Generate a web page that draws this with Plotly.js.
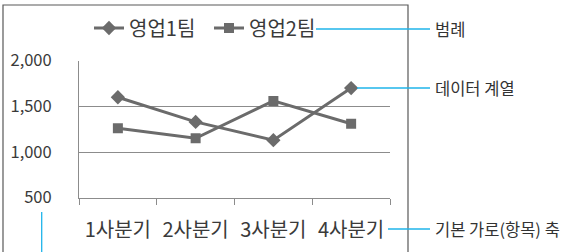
<!DOCTYPE html>
<html><head><meta charset="utf-8">
<script src="https://cdn.plot.ly/plotly-3.0.1.min.js"></script>
<style>html,body{margin:0;padding:0;background:#fff}#c{width:561px;height:252px}</style>
</head><body><div id="c"></div>
<script>
const categories = ['1사분기','2사분기','3사분기','4사분기'];
const team1 = [1600, 1330, 1130, 1700];
const team2 = [1260, 1150, 1560, 1310];
const seriesNames = ['영업1팀','영업2팀'];
const callouts = ['범례','데이터 계열','기본 가로(항목) 축'];

const W = 561, H = 252;
const px = x => x / W, py = y => 1 - y / H;
const F = '"Noto Sans CJK KR", "Noto Sans", sans-serif';
const gray = '#6b6b6b';
const blue = '#1fb4ea';

const traces = [
  {x: categories, y: team1, name: seriesNames[0], type: 'scatter', mode: 'lines+markers', legend: 'legend',
   line: {color: gray, width: 3}, marker: {symbol: 'diamond', size: 11, color: gray}},
  {x: categories, y: team2, name: seriesNames[1], type: 'scatter', mode: 'lines+markers', legend: 'legend2',
   line: {color: gray, width: 3}, marker: {symbol: 'square', size: 10, color: gray}}
];

const legFont = {family: F, size: 20, color: '#3a3a3a'};
const layout = {
  width: W, height: H,
  margin: {l: 0, r: 0, t: 0, b: 0},
  paper_bgcolor: '#fff', plot_bgcolor: '#fff',
  font: {family: F, color: '#3a3a3a', size: 16},
  showlegend: true,
  legend: {orientation: 'h', x: px(89), y: py(28), xanchor: 'left', yanchor: 'middle',
           font: legFont, itemwidth: 30, bgcolor: 'rgba(0,0,0,0)'},
  legend2: {orientation: 'h', x: px(209), y: py(28), xanchor: 'left', yanchor: 'middle',
           font: legFont, itemwidth: 30, bgcolor: 'rgba(0,0,0,0)'},
  xaxis: {domain: [px(79), px(390)], type: 'category', range: [-0.5, 3.5],
          showline: true, linecolor: '#8c8c8c', linewidth: 1,
          ticks: 'outside', tickson: 'boundaries', ticklen: 6, tickcolor: '#8c8c8c',
          showgrid: false, zeroline: false, fixedrange: true,
          tickfont: {family: F, size: 20, color: '#3a3a3a'}, ticklabelstandoff: 14},
  yaxis: {domain: [py(197.7), py(60.7)], range: [500, 2000], dtick: 500, tickformat: ',',
          showline: true, linecolor: '#8c8c8c', linewidth: 1, ticks: '',
          showgrid: true, gridcolor: '#8c8c8c', gridwidth: 1, zeroline: false,
          tickfont: {family: F, size: 16.5, color: '#3a3a3a'}, ticklabelstandoff: 23},
  shapes: [
    {type: 'rect', xref: 'paper', yref: 'paper', x0: px(3), x1: px(408), y0: py(270), y1: py(5),
     line: {color: '#595959', width: 1.2}, fillcolor: 'rgba(0,0,0,0)', layer: 'below'},
    {type: 'line', xref: 'paper', yref: 'paper', x0: px(316), x1: px(430), y0: py(29), y1: py(29),
     line: {color: blue, width: 1.3}},
    {type: 'line', xref: 'paper', yref: 'paper', x0: px(357), x1: px(430), y0: py(88), y1: py(88),
     line: {color: blue, width: 1.3}},
    {type: 'line', xref: 'paper', yref: 'paper', x0: px(388), x1: px(430), y0: py(229), y1: py(229),
     line: {color: blue, width: 1.3}},
    {type: 'line', xref: 'paper', yref: 'paper', x0: px(41.7), x1: px(41.7), y0: py(212), y1: py(255),
     line: {color: blue, width: 1.3}}
  ],
  annotations: [
    {text: callouts[0], xref: 'paper', yref: 'paper', x: px(433), y: py(29), xanchor: 'left', yanchor: 'middle', showarrow: false, font: {family: F, size: 16.5, color: '#333'}},
    {text: callouts[1], xref: 'paper', yref: 'paper', x: px(433), y: py(88), xanchor: 'left', yanchor: 'middle', showarrow: false, font: {family: F, size: 16.5, color: '#333'}},
    {text: callouts[2], xref: 'paper', yref: 'paper', x: px(433), y: py(229), xanchor: 'left', yanchor: 'middle', showarrow: false, font: {family: F, size: 16.5, color: '#333'}}
  ]
};

Plotly.newPlot('c', traces, layout, {staticPlot: true, displayModeBar: false});
</script></body></html>
